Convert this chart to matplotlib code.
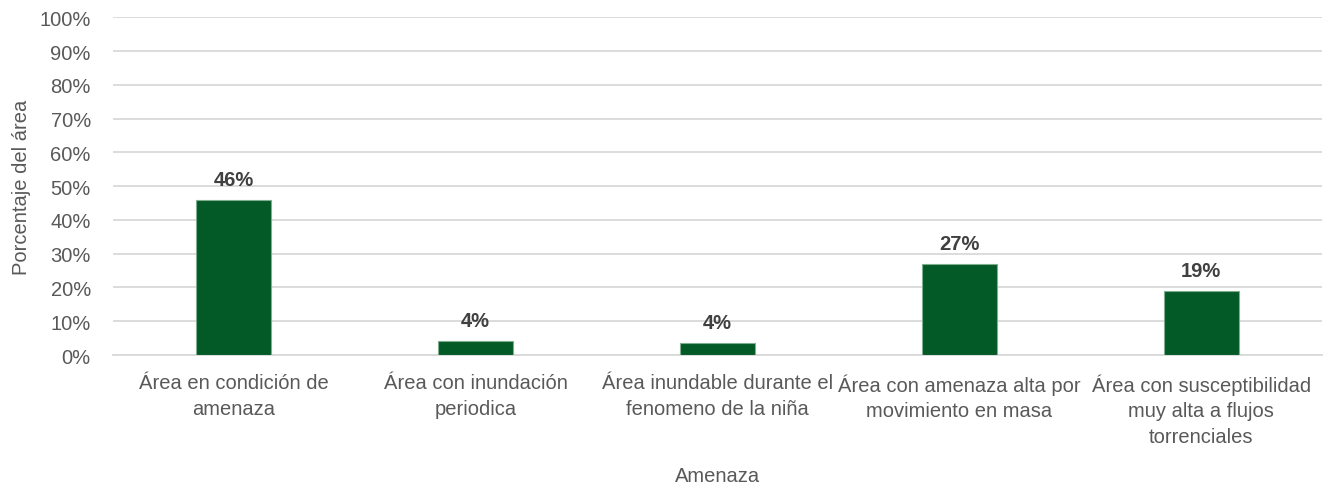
import matplotlib
matplotlib.use('Agg')
import matplotlib.pyplot as plt
from matplotlib.ticker import PercentFormatter

# Datos del gráfico
categorias = [
    'Área en condición de\namenaza',
    'Área con inundación\nperiodica',
    'Área inundable durante el\nfenomeno de la niña',
    'Área con amenaza alta por\nmovimiento en masa',
    'Área con susceptibilidad\nmuy alta a flujos\ntorrenciales',
]
porcentajes = [46.0, 4.1, 3.5, 26.9, 18.95]
etiquetas = ['46%', '4%', '4%', '27%', '19%']

plt.rcParams['font.family'] = ['Liberation Sans Narrow', 'Liberation Sans', 'DejaVu Sans']

fig = plt.figure(figsize=(13.25, 4.89), dpi=100)
ax = fig.add_axes([113 / 1325, 1 - 356 / 489, (1322 - 113) / 1325, (356 - 18.3) / 489])

x = range(len(categorias))
barras = ax.bar(x, porcentajes, width=0.31, color='#035a27', edgecolor='#7fae8f',
                linewidth=0.8, zorder=3)

for b, txt in zip(barras, etiquetas):
    ax.annotate(txt, (b.get_x() + b.get_width() / 2, b.get_height()),
                xytext=(0, 8), textcoords='offset points', ha='center', va='bottom',
                fontsize=14.5, fontweight='bold', color='#404040')

ax.set_xlim(-0.5, len(categorias) - 0.5)
ax.set_ylim(0, 100)
ax.set_yticks(range(0, 101, 10))
ax.yaxis.set_major_formatter(PercentFormatter(decimals=0))
ax.set_xticks(list(x))
ax.set_xticklabels(categorias, fontsize=14.5, color='#595959', linespacing=1.45)
ax.tick_params(axis='y', labelsize=14.5, labelcolor='#595959', length=0, pad=16)
ax.tick_params(axis='x', length=0, pad=13)

ax.grid(axis='y', color='#d9d9d9', linewidth=1.3, zorder=0)
for s in ['top', 'right', 'left']:
    ax.spines[s].set_visible(False)
ax.spines['bottom'].set_color('#d9d9d9')
ax.spines['bottom'].set_linewidth(1.3)

ax.set_xlabel('Amenaza', fontsize=14.5, color='#595959', labelpad=14)
ax.set_ylabel('Porcentaje del área', fontsize=14.5, color='#595959', labelpad=6)

fig.savefig('out.png', dpi=100)
